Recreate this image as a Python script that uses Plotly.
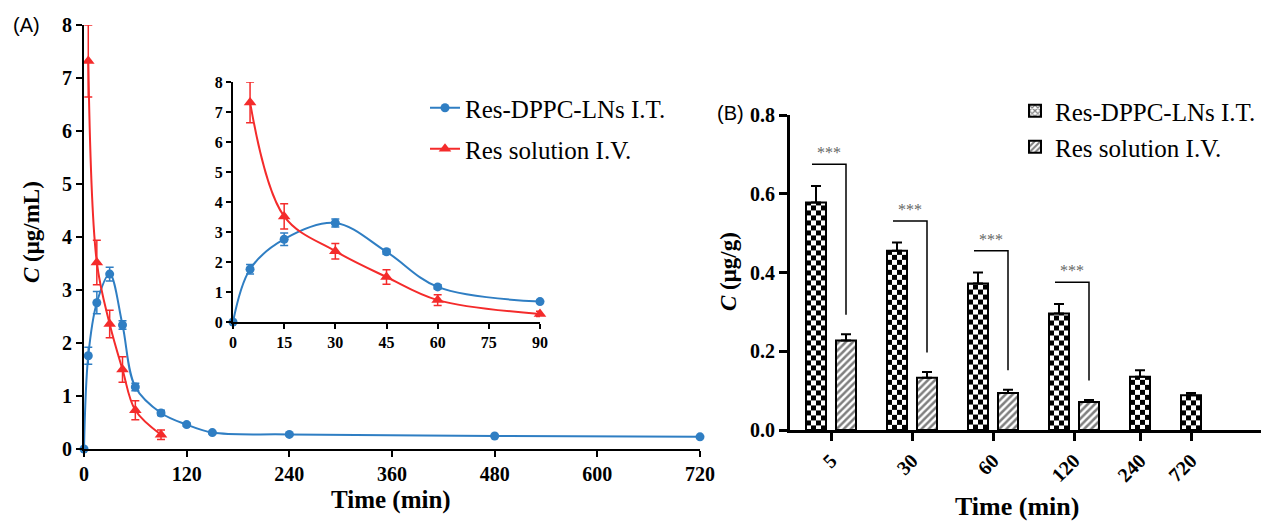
import numpy as np
import plotly.graph_objects as go

# ---------------- data : panel A (plasma concentration) ----------------
time_min = [0, 5, 15, 30, 45, 60, 90, 120, 150, 240, 480, 720]
lns_conc = [0, 1.76, 2.76, 3.30, 2.34, 1.17, 0.68, 0.46, 0.31, 0.275, 0.245, 0.23]
lns_sd = [0, 0.16, 0.21, 0.13, 0.08, 0.07, 0.05, 0.03, 0.02, 0.02, 0.01, 0.01]
sol_time = [5, 15, 30, 45, 60, 90]
sol_conc = [7.32, 3.52, 2.36, 1.50, 0.73, 0.27]
sol_sd = [0.68, 0.42, 0.26, 0.24, 0.18, 0.09]
series_names = ["Res-DPPC-LNs I.T.", "Res solution I.V."]

# ---------------- data : panel B (lung tissue concentration) ----------------
tissue_times = ["5", "30", "60", "120", "240", "720"]
lns_tissue = [0.578, 0.455, 0.372, 0.296, 0.135, 0.088]
lns_tissue_sd = [0.042, 0.021, 0.028, 0.024, 0.017, 0.006]
sol_tissue = [0.227, 0.133, 0.094, 0.071, None, None]
sol_tissue_sd = [0.016, 0.014, 0.008, 0.005, None, None]
significance = ["***", "***", "***", "***", "", ""]

# ---------------- layout helpers (page pixel -> paper fraction) ----------------
PAGE_W, PAGE_H = 1269, 521
OFF = 8  # default page body margin
W_FIG, H_FIG = PAGE_W - OFF, PAGE_H - OFF


def fx(p):
    return (p - OFF) / W_FIG


def fy(p):
    return 1 - (p - OFF) / H_FIG


BLUE = '#2f7ec3'
RED = '#f42b2b'
SERIF = 'Liberation Serif'
tick_font = dict(family=SERIF, size=20, color='black', weight='bold')

fig = go.Figure()


def add_line(xs, ys, es, name, color, symbol, size, xa, ya, legend, showlegend):
    fig.add_trace(go.Scatter(
        x=xs, y=ys, mode='lines+markers', name=name,
        line=dict(color=color, width=2, shape='spline', smoothing=1.0),
        marker=dict(color=color, symbol=symbol, size=size),
        error_y=dict(type='data', array=es, color=color, thickness=1.5, width=4),
        cliponaxis=False, xaxis=xa, yaxis=ya, legend=legend, showlegend=showlegend))


# main panel A
add_line(time_min, lns_conc, lns_sd, series_names[0], BLUE, 'circle', 9, 'x', 'y', 'legend', True)
add_line(sol_time, sol_conc, sol_sd, series_names[1], RED, 'triangle-up', 11, 'x', 'y', 'legend2', True)

# inset (first 90 min)
idx_b = [i for i, t in enumerate(time_min) if t <= 90]
idx_r = [i for i, t in enumerate(sol_time) if t <= 90]
add_line([time_min[i] for i in idx_b], [lns_conc[i] for i in idx_b], [lns_sd[i] for i in idx_b],
         series_names[0], BLUE, 'circle', 9, 'x2', 'y2', 'legend', False)
add_line([sol_time[i] for i in idx_r], [sol_conc[i] for i in idx_r], [sol_sd[i] for i in idx_r],
         series_names[1], RED, 'triangle-up', 11, 'x2', 'y2', 'legend2', False)

# ---------------- panel B bars ----------------
B_LEFT, B_RIGHT, B_BOTTOM, B_TOP = 790, PAGE_W, 430, 115
PX_PER_UNIT = 20.0
BAR_W, IN_GAP, GRP_GAP, LEFT_PAD = 1.0, 0.5, 1.55, 0.8
Y_MAX_B = 0.8

check_x, hatch_x, group_c = [], [], []
pos = LEFT_PAD
for i in range(len(tissue_times)):
    n = 2 if sol_tissue[i] is not None else 1
    gw = n * BAR_W + (n - 1) * IN_GAP
    group_c.append(pos + gw / 2)
    check_x.append(pos + BAR_W / 2)
    hatch_x.append(pos + BAR_W + IN_GAP + BAR_W / 2 if n == 2 else None)
    pos += gw + GRP_GAP

cell_h = 5 * Y_MAX_B / (B_BOTTOM - B_TOP)
for c, v in zip(check_x, lns_tissue):
    x_edges = list(np.linspace(c - BAR_W / 2, c + BAR_W / 2, 5))
    n_rows = int(np.ceil(v / cell_h))
    y_edges = [min(k * cell_h, v) for k in range(n_rows + 1)]
    z = [[(r + col) % 2 for col in range(4)] for r in range(n_rows)]
    fig.add_trace(go.Heatmap(x=x_edges, y=y_edges, z=z, zmin=0, zmax=1,
                             colorscale=[[0, 'white'], [1, 'black']], showscale=False,
                             hoverinfo='skip', xaxis='x3', yaxis='y3', showlegend=False))

fig.add_trace(go.Bar(
    x=check_x, y=lns_tissue, width=BAR_W, name=series_names[0], showlegend=False,
    marker=dict(color='rgba(0,0,0,0)', line=dict(color='black', width=2)),
    error_y=dict(type='data', symmetric=False, array=lns_tissue_sd,
                 arrayminus=[0] * len(lns_tissue), color='black', thickness=2, width=5),
    xaxis='x3', yaxis='y3'))

hx = [x for x in hatch_x if x is not None]
hv = [v for v in sol_tissue if v is not None]
he = [e for e in sol_tissue_sd if e is not None]
fig.add_trace(go.Bar(
    x=hx, y=hv, width=BAR_W, name=series_names[1], legend='legend4',
    marker=dict(color='white', line=dict(color='black', width=2),
                pattern=dict(shape='/', fgcolor='black', bgcolor='white', size=5, solidity=0.5)),
    error_y=dict(type='data', symmetric=False, array=he, arrayminus=[0] * len(he),
                 color='black', thickness=2, width=5),
    xaxis='x3', yaxis='y3'))

# legend entry for checkered series
fig.add_trace(go.Bar(
    x=[None], y=[None], name=series_names[0], legend='legend3',
    marker=dict(color='white', line=dict(color='black', width=2),
                pattern=dict(shape='x', fgcolor='black', bgcolor='white', size=5, solidity=0.5)),
    xaxis='x3', yaxis='y3'))

# significance brackets
shapes = []
annotations = []
for i, s in enumerate(significance):
    if not s:
        continue
    x0 = check_x[i] - 0.2
    x1 = hatch_x[i]
    ytop = lns_tissue[i] + lns_tissue_sd[i] + 0.055
    ybot = sol_tissue[i] + sol_tissue_sd[i] + 0.05
    shapes.append(dict(type='path', xref='x3', yref='y3',
                       path=f"M {x0},{ytop} L {x1},{ytop} L {x1},{ybot}",
                       line=dict(color='black', width=1.5)))
    annotations.append(dict(x=(x0 + x1) / 2, y=ytop, xref='x3', yref='y3', text=s,
                            showarrow=False, xanchor='center', yanchor='bottom', yshift=1,
                            font=dict(family=SERIF, size=16, color='#666666')))


def label(px, py, text, size, family=SERIF, bold=True, angle=0):
    f = dict(family=family, size=size, color='black')
    if bold:
        f['weight'] = 'bold'
    return dict(x=fx(px), y=fy(py), xref='paper', yref='paper', text=text, showarrow=False,
                xanchor='center', yanchor='middle', textangle=angle, font=f)


annotations += [
    label(26, 25, '(A)', 20, family='Liberation Sans', bold=False),
    label(730, 113, '(B)', 20, family='Liberation Sans', bold=False),
    label(391, 500, 'Time (min)', 25),
    label(1017, 506, 'Time (min)', 26),
    label(31, 232, '<i>C</i> (μg/mL)', 23, angle=-90),
    label(728, 272, '<i>C</i> (μg/g)', 23, angle=-90),
]

axis_common = dict(showgrid=False, zeroline=False, showline=True, linecolor='black',
                   ticks='outside', tickcolor='black')

leg_font = dict(family=SERIF, size=25, color='black')


def legend_at(xp, yp):
    return dict(x=fx(xp), y=fy(yp), xanchor='left', yanchor='middle',
                bgcolor='rgba(0,0,0,0)', borderwidth=0, font=leg_font)


fig.update_layout(
    width=W_FIG, height=H_FIG, margin=dict(l=0, r=0, t=0, b=0, autoexpand=False),
    paper_bgcolor='white', plot_bgcolor='rgba(0,0,0,0)', barmode='overlay',
    xaxis=dict(axis_common, domain=[fx(84), fx(700)], range=[0, 720], tickvals=list(range(0, 721, 120)),
               ticklen=6, tickwidth=2, linewidth=2, tickfont=tick_font, anchor='y'),
    yaxis=dict(axis_common, domain=[fy(449), fy(25)], range=[0, 8], dtick=1,
               ticklen=6, tickwidth=2, linewidth=2, tickfont=tick_font, anchor='x'),
    xaxis2=dict(axis_common, domain=[fx(233), fx(540)], range=[0, 90], dtick=15,
                ticklen=5, tickwidth=2, linewidth=2, anchor='y2',
                tickfont=dict(family=SERIF, size=16, color='black', weight='bold')),
    yaxis2=dict(axis_common, domain=[fy(322), fy(82)], range=[0, 8], dtick=1,
                ticklen=5, tickwidth=2, linewidth=2, anchor='x2',
                tickfont=dict(family=SERIF, size=16, color='black', weight='bold')),
    xaxis3=dict(axis_common, domain=[fx(B_LEFT), 1.0],
                range=[0, (B_RIGHT - B_LEFT) / PX_PER_UNIT],
                tickvals=group_c, ticktext=tissue_times, tickangle=-45,
                ticklen=8, tickwidth=3, linewidth=3, tickfont=tick_font, anchor='y3'),
    yaxis3=dict(axis_common, domain=[fy(B_BOTTOM), fy(B_TOP)], range=[0, Y_MAX_B],
                tickvals=[0, 0.2, 0.4, 0.6, 0.8], tickformat='.1f',
                ticklen=8, tickwidth=3, linewidth=3, tickfont=tick_font, anchor='x3'),
    legend=legend_at(425, 108),
    legend2=legend_at(425, 149),
    legend3=legend_at(1015, 111),
    legend4=legend_at(1015, 147),
    shapes=shapes,
    annotations=annotations,
)

fig.write_html("out.html")
